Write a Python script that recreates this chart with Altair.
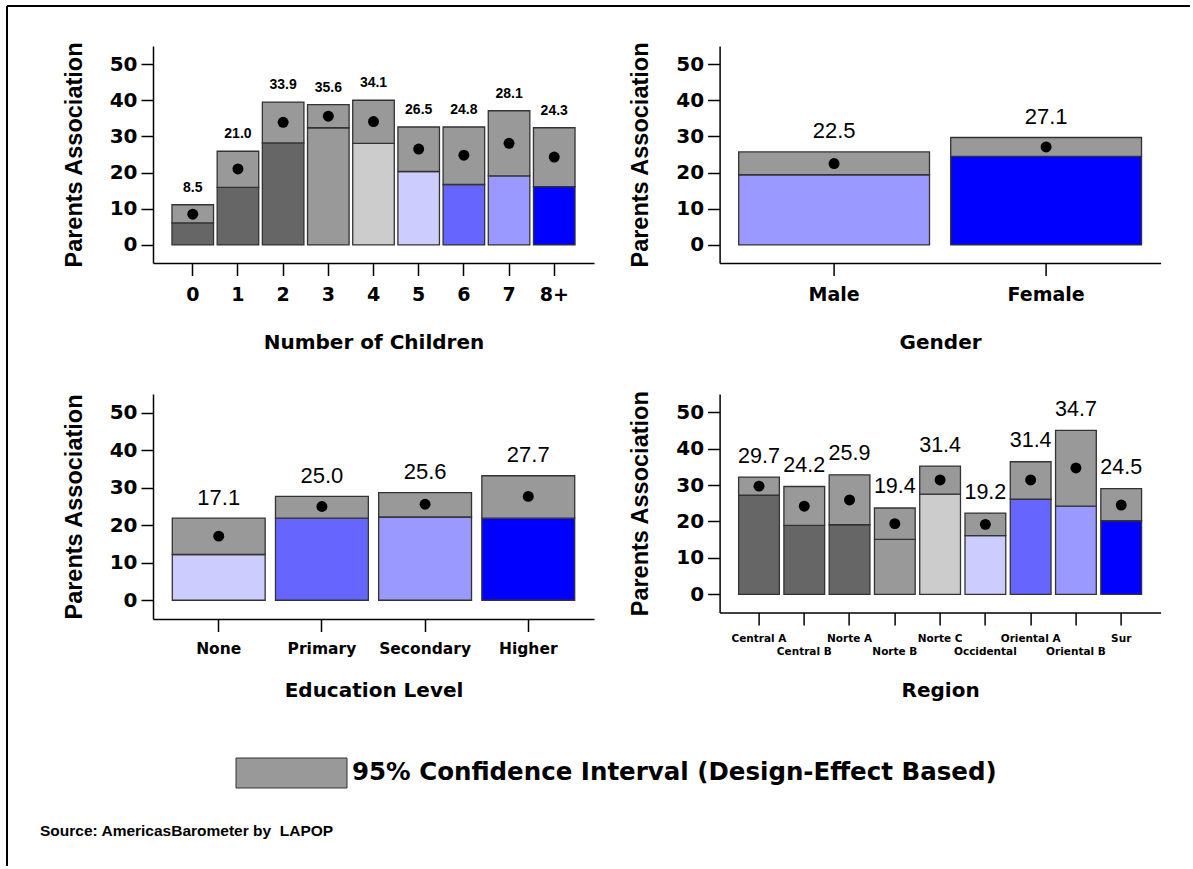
import altair as alt
import pandas as pd

# ---------------- data ----------------
children_cats = ["0", "1", "2", "3", "4", "5", "6", "7", "8+"]
children_mean = [8.5, 21.0, 33.9, 35.6, 34.1, 26.5, 24.8, 28.1, 24.3]
children_low = [6.1, 15.9, 28.2, 32.4, 28.1, 20.3, 16.7, 19.1, 16.1]
children_high = [11.1, 25.9, 39.5, 38.8, 40.0, 32.6, 32.6, 37.1, 32.4]
children_colors = ["#666666", "#666666", "#666666", "#999999", "#cccccc",
                   "#ccccff", "#6666ff", "#9999ff", "#0000ff"]

gender_cats = ["Male", "Female"]
gender_mean = [22.5, 27.1]
gender_low = [19.4, 24.5]
gender_high = [25.7, 29.7]
gender_colors = ["#9999ff", "#0000ff"]

edu_cats = ["None", "Primary", "Secondary", "Higher"]
edu_mean = [17.1, 25.0, 25.6, 27.7]
edu_low = [12.2, 21.9, 22.2, 21.9]
edu_high = [21.9, 27.7, 28.7, 33.2]
edu_colors = ["#ccccff", "#6666ff", "#9999ff", "#0000ff"]

region_cats = ["Central A", "Central B", "Norte A", "Norte B", "Norte C",
               "Occidental", "Oriental A", "Oriental B", "Sur"]
region_mean = [29.7, 24.2, 25.9, 19.4, 31.4, 19.2, 31.4, 34.7, 24.5]
region_low = [27.2, 18.9, 19.1, 15.1, 27.5, 16.1, 26.1, 24.2, 20.2]
region_high = [32.2, 29.6, 32.8, 23.7, 35.2, 22.3, 36.4, 45.0, 29.0]
region_colors = ["#666666", "#666666", "#666666", "#999999", "#cccccc",
                 "#ccccff", "#6666ff", "#9999ff", "#0000ff"]

y_ticks = [0, 10, 20, 30, 40, 50]
y_title = "Parents Association"
ci_label = "95% Confidence Interval (Design-Effect Based)"
source_label = "Source: AmericasBarometer by\u00a0 LAPOP"

FONT_W = "DejaVu Sans"
FONT_A = "Liberation Sans"
CI_GRAY = "#999999"
EDGE = "#333333"


def panel(cats, mean, low, high, colors, xtitle, width, height,
          pad_in, pad_out, label_size, label_padding, title_y,
          value_size, value_weight, value_dy,
          label_expr=None, line_height=None):
    df = pd.DataFrame({"cat": cats, "mean": mean, "low": low,
                       "high": high, "color": colors})
    xaxis_kw = dict(
        title=xtitle, labelAngle=0, labelFont=FONT_W, labelFontWeight="bold",
        labelFontSize=label_size, labelPadding=label_padding, tickSize=12.5,
        tickWidth=1.5, domainWidth=1.5, titleFont=FONT_W,
        titleFontWeight="bold", titleFontSize=20, titleY=title_y,
        titleBaseline="middle", labelOverlap=False, labelBound=False,
    )
    if label_expr:
        xaxis_kw["labelExpr"] = label_expr
    if line_height:
        xaxis_kw["labelLineHeight"] = line_height
    xenc = alt.X("cat:N", sort=cats,
                 scale=alt.Scale(paddingInner=pad_in, paddingOuter=pad_out),
                 axis=alt.Axis(**xaxis_kw))
    yaxis = alt.Axis(
        values=y_ticks, title=y_title, labelFont=FONT_W,
        labelFontWeight="bold", labelFontSize=20, labelPadding=4,
        tickSize=12, tickWidth=1.5, domainWidth=1.5, titleFont=FONT_A,
        titleFontWeight="bold", titleFontSize=23.5, titleX=-79,
        titleBaseline="middle", titleAngle=270,
    )
    yscale = alt.Scale(domain=[-5, 55], nice=False, zero=False)

    base = alt.Chart(df)
    lower = base.mark_bar(stroke=EDGE, strokeWidth=1.3).encode(
        x=xenc,
        y=alt.Y("low:Q", scale=yscale, axis=yaxis),
        y2=alt.datum(0),
        fill=alt.Fill("color:N", scale=None),
    )
    ci = base.mark_bar(stroke=EDGE, strokeWidth=1.3, fill=CI_GRAY).encode(
        x=xenc,
        y=alt.Y("low:Q", scale=yscale, axis=yaxis),
        y2="high:Q",
    )
    dots = base.mark_circle(size=120, color="black", opacity=1).encode(
        x=xenc,
        y=alt.Y("mean:Q", scale=yscale, axis=yaxis),
    )
    labels = base.mark_text(
        baseline="middle", dy=value_dy, font=FONT_A, fontSize=value_size,
        fontWeight=value_weight, color="black",
    ).encode(
        x=xenc,
        y=alt.Y("high:Q", scale=yscale, axis=yaxis),
        text=alt.Text("mean:Q", format=".1f"),
    )
    return [lower, ci, dots, labels], width, height


one = pd.DataFrame({"k": [0]})

# ---- panel 1 (with the outer frame lines) ----
l1, w1, h1 = panel(children_cats, children_mean, children_low, children_high,
                   children_colors, "Number of Children", 441, 217,
                   0.08, 0.42, 19, 10, 79, 14, "bold", -17)
frame_top = alt.Chart(one).mark_rule(color="black", strokeWidth=2).encode(
    x=alt.value(-146), x2=alt.value(1037), y=alt.value(-40))
frame_left = alt.Chart(one).mark_rule(color="black", strokeWidth=2).encode(
    x=alt.value(-146), y=alt.value(-40), y2=alt.value(820))
p1 = alt.layer(*l1, frame_top, frame_left).properties(width=w1, height=h1)

# ---- panel 2 ----
l2, w2, h2 = panel(gender_cats, gender_mean, gender_low, gender_high,
                   gender_colors, "Gender", 441, 217,
                   0.1, 0.09, 19, 10, 79, 22, "normal", -20.5)
p2 = alt.layer(*l2).properties(width=w2, height=h2)

# ---- panel 3 (with the footer) ----
l3, w3, h3 = panel(edu_cats, edu_mean, edu_low, edu_high, edu_colors,
                   "Education Level", 441, 225,
                   0.1, 0.187, 15.5, 10, 71, 22, "normal", -20.5)
legend_box = alt.Chart(one).mark_rect(
    fill=CI_GRAY, stroke=EDGE, strokeWidth=1).encode(
    x=alt.value(83), x2=alt.value(194), y=alt.value(364), y2=alt.value(394))
legend_text = alt.Chart(one).mark_text(
    text=ci_label, align="left", baseline="middle", font=FONT_W,
    fontSize=24.5, fontWeight="bold", color="black").encode(
    x=alt.value(199), y=alt.value(379))
source_text = alt.Chart(one).mark_text(
    text=source_label, align="left", baseline="middle", font=FONT_A,
    fontSize=15.5, fontWeight="bold", color="black").encode(
    x=alt.value(-113), y=alt.value(437))
p3 = alt.layer(*l3, legend_box, legend_text, source_text).properties(
    width=w3, height=h3)

# ---- panel 4 ----
stagger = ("indexof(['Central B','Norte B','Occidental','Oriental B'], "
           "datum.label) >= 0 ? [' ', datum.label] : datum.label")
l4, w4, h4 = panel(region_cats, region_mean, region_low, region_high,
                   region_colors, "Region", 441, 218.5,
                   0.1, 0.42, 10.5, 8.5, 78, 21.5, "normal", -20.5,
                   label_expr=stagger, line_height=12.5)
p4 = alt.layer(*l4).properties(width=w4, height=h4)

chart = alt.concat(
    p1, p2, p3, p4, columns=2, bounds="flush",
    spacing={"row": 131, "column": 125.6},
).properties(
    padding={"left": 6, "top": 5, "right": 0, "bottom": 0},
    background="white",
).configure_view(stroke=None).configure_axis(
    domainColor="black", tickColor="black", labelColor="black",
    titleColor="black", grid=False,
)

chart.save("out.html", embed_options={"renderer": "svg", "actions": False})
